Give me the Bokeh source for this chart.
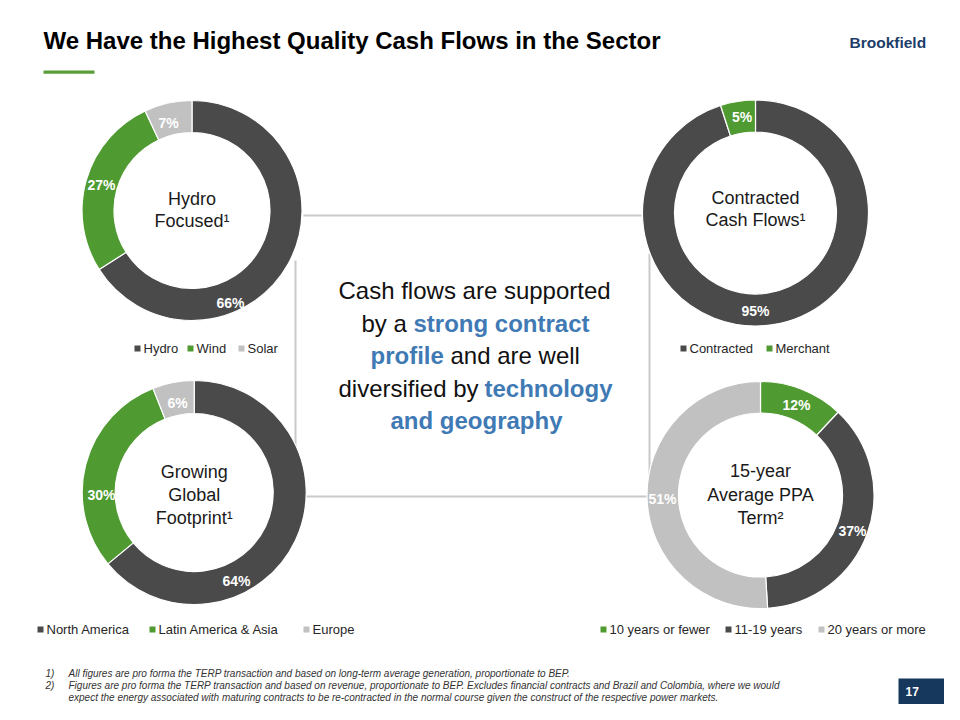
import math
from bokeh.plotting import figure
from bokeh.models import Range1d
from bokeh.core.properties import value
from bokeh.embed import file_html
from bokeh.resources import INLINE

# ---------------- data ----------------
tech_cats = ["Hydro", "Wind", "Solar"]
tech_vals = [66, 27, 7]
contract_cats = ["Contracted", "Merchant"]
contract_vals = [95, 5]
geo_cats = ["North America", "Latin America & Asia", "Europe"]
geo_vals = [64, 30, 6]
ppa_cats = ["10 years or fewer", "11-19 years", "20 years or more"]
ppa_vals = [12, 37, 51]

title_text = "We Have the Highest Quality Cash Flows in the Sector"
logo_text = "Brookfield"
page_no = "17"
footnotes = [
    ("1)", "All figures are pro forma the TERP transaction and based on long-term average generation, proportionate to BEP."),
    ("2)", "Figures are pro forma the TERP transaction and based on revenue, proportionate to BEP.  Excludes financial contracts and Brazil and Colombia, where we would"),
    ("", "expect the energy associated with maturing contracts to be re-contracted in the normal course given the construct of the respective power markets."),
]

# ---------------- style ----------------
DARK = "#4a4a4a"
GREEN = "#4f9b32"
LIGHT = "#c1c1c1"
BLUE = "#3f7ab5"
NAVY = "#17385d"
LINEC = "#c9c9c9"
FONT = value("Liberation Sans")

W, H = 944, 704


def Y(v):
    return 720 - v


p = figure(width=W, height=H, x_range=Range1d(0, 944), y_range=Range1d(16, 720),
           output_backend="svg", toolbar_location=None,
           x_axis_location=None, y_axis_location=None, min_border=0)
p.grid.visible = False
p.outline_line_color = None
p.background_fill_color = "white"
p.border_fill_color = "white"

# connector lines (behind donuts)
p.segment(x0=[303, 306, 295, 649], y0=[Y(215), Y(496), Y(260), Y(253)],
          x1=[641, 647, 295, 649], y1=[Y(215), Y(496), Y(496), Y(496)],
          line_color=LINEC, line_width=2)

donuts = [
    dict(cats=tech_cats, vals=tech_vals, colors=[DARK, GREEN, LIGHT],
         c=(191.5, 210), R=110, r=78,
         lab=[(230, 302), (101, 184), (168, 122)],
         center=["Hydro", "Focused\u00b9"], cy=[198, 220],
         leg_y=348, leg_x=[137, 190, 241]),
    dict(cats=contract_cats, vals=contract_vals, colors=[DARK, GREEN],
         c=(755, 212.5), R=113, r=81,
         lab=[(755, 310), (741.5, 116)],
         center=["Contracted", "Cash Flows\u00b9"], cy=[197, 219],
         leg_y=348, leg_x=[683, 769]),
    dict(cats=geo_cats, vals=geo_vals, colors=[DARK, GREEN, LIGHT],
         c=(193.7, 492), R=112, r=79,
         lab=[(236, 580), (101, 494), (177, 402)],
         center=["Growing", "Global", "Footprint\u00b9"], cy=[471, 494, 517],
         leg_y=629, leg_x=[40, 152, 306]),
    dict(cats=ppa_cats, vals=ppa_vals, colors=[GREEN, DARK, LIGHT],
         c=(760, 494.5), R=113.5, r=82,
         lab=[(796, 404), (852, 530), (662, 498)],
         center=["15-year", "Average PPA", "Term\u00b2"], cy=[470, 494, 517],
         leg_y=629, leg_x=[603, 728, 821]),
]

for d in donuts:
    vals = d["vals"]
    n = len(vals)
    total = float(sum(vals))
    cx, cy = d["c"]
    starts, ends = [], []
    cum = 0.0
    for v in vals:
        starts.append(math.pi / 2 - 2 * math.pi * (cum + v) / total)
        ends.append(math.pi / 2 - 2 * math.pi * cum / total)
        cum += v
    p.annular_wedge(x=[cx] * n, y=[Y(cy)] * n, inner_radius=d["r"], outer_radius=d["R"],
                    start_angle=starts, end_angle=ends,
                    fill_color=d["colors"], line_color="white", line_width=1.2)
    # percentage labels
    p.text(x=[q[0] for q in d["lab"]], y=[Y(q[1]) for q in d["lab"]],
           text=["%d%%" % v for v in vals], text_font=FONT, text_font_size="14px",
           text_font_style="bold", text_color="white",
           text_align="center", text_baseline="middle")
    # center title
    p.text(x=[cx] * len(d["center"]), y=[Y(v) for v in d["cy"]], text=d["center"],
           text_font=FONT, text_font_size="18px", text_color="#1a1a1a",
           text_align="center", text_baseline="middle")
    # legend
    p.scatter(x=d["leg_x"], y=[Y(d["leg_y"])] * n, marker="square", size=6,
              fill_color=d["colors"], line_color=None)
    p.text(x=[x + 6 for x in d["leg_x"]], y=[Y(d["leg_y"])] * n, text=d["cats"],
           text_font=FONT, text_font_size="13px", text_color="#262626",
           text_align="left", text_baseline="middle")

# central message (runs)
runs = [
    ("Cash flows are supported", 338, 290, False),
    ("by a", 361, 323, False),
    ("strong contract", 413, 323, True),
    ("profile", 370, 355, True),
    ("and are well", 450, 355, False),
    ("diversified by", 338, 388, False),
    ("technology", 484, 388, True),
    ("and geography", 390, 420, True),
]
for bold in (False, True):
    sel = [r for r in runs if r[3] == bold]
    p.text(x=[r[1] for r in sel], y=[Y(r[2]) for r in sel], text=[r[0] for r in sel],
           text_font=FONT, text_font_size="24px",
           text_font_style="bold" if bold else "normal",
           text_color=BLUE if bold else "#111111",
           text_align="left", text_baseline="middle")

# title, underline, logo
p.text(x=[43], y=[Y(40)], text=[title_text], text_font=FONT, text_font_size="24px",
       text_font_style="bold", text_color="#000000", text_align="left", text_baseline="middle")
p.quad(left=[43], right=[94], top=[Y(70)], bottom=[Y(73.3)], fill_color="#5a9e3a", line_color=None)
p.text(x=[849], y=[Y(42)], text=[logo_text], text_font=FONT, text_font_size="15.5px",
       text_font_style="bold", text_color="#1d3d6a", text_align="left", text_baseline="middle")

# footnotes
fy = [673, 685, 697]
p.text(x=[45] * 3, y=[Y(v) for v in fy], text=[f[0] for f in footnotes], text_font=FONT,
       text_font_size="10px", text_font_style="italic", text_color="#333333",
       text_align="left", text_baseline="middle")
p.text(x=[68] * 3, y=[Y(v) for v in fy], text=[f[1] for f in footnotes], text_font=FONT,
       text_font_size="10px", text_font_style="italic", text_color="#333333",
       text_align="left", text_baseline="middle")

# page number box
p.quad(left=[898], right=[944], top=[Y(678)], bottom=[Y(704)], fill_color=NAVY, line_color=None)
p.text(x=[905], y=[Y(691)], text=[page_no], text_font=FONT, text_font_size="12px",
       text_font_style="bold", text_color="white", text_align="left", text_baseline="middle")

open("out.html", "w").write(file_html(p, INLINE))
